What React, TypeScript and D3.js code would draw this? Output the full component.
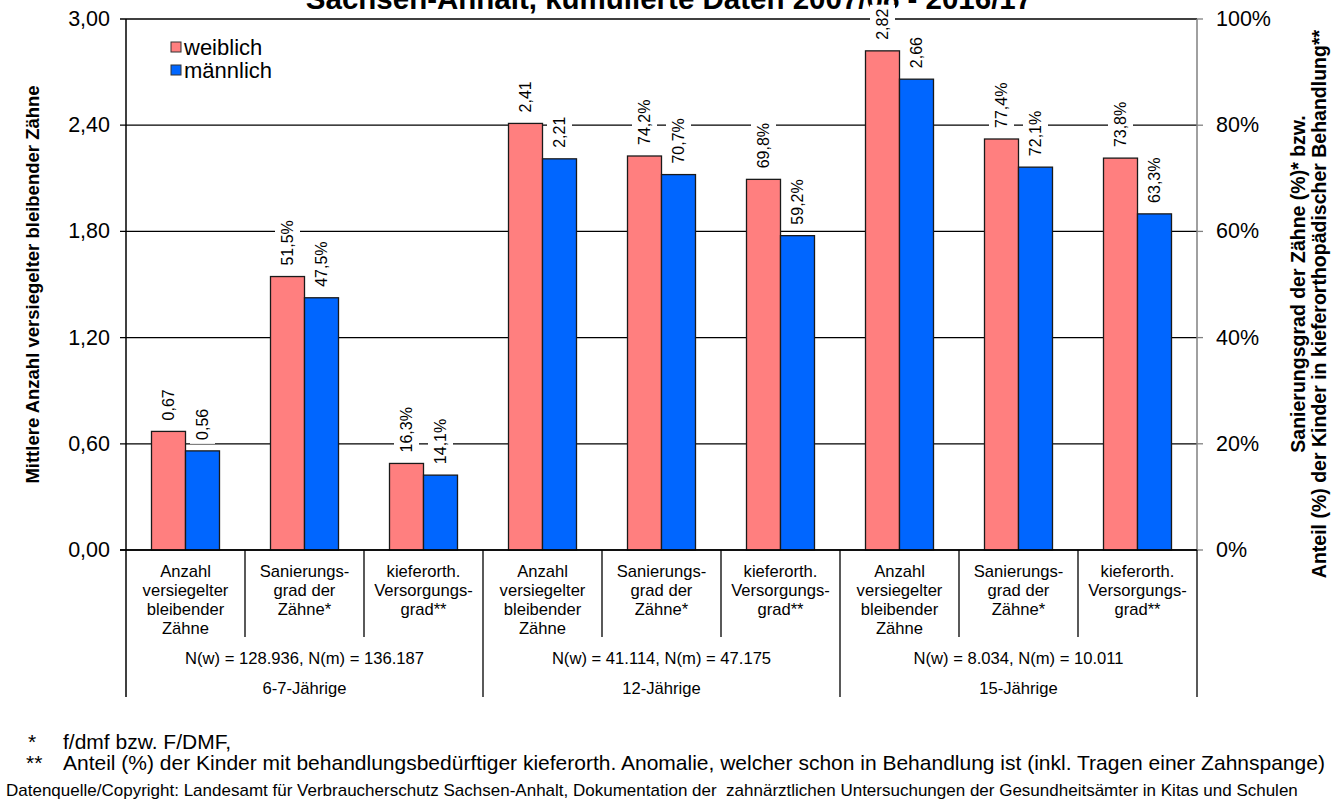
import React, { useEffect, useRef } from "react";
import * as d3 from "d3";

const W = 1331;
const H = 803;

const ageGroups = ["6-7-Jährige", "12-Jährige", "15-Jährige"];
const groupN = [
  "N(w) = 128.936, N(m) = 136.187",
  "N(w) = 41.114, N(m) = 47.175",
  "N(w) = 8.034, N(m) = 10.011",
];
const measureLabels = [
  ["Anzahl", "versiegelter", "bleibender", "Zähne"],
  ["Sanierungs-", "grad der", "Zähne*"],
  ["kieferorth.", "Versorgungs-", "grad**"],
];
// measure type: "count" uses left axis, "pct" uses right axis
const measureAxis = ["count", "pct", "pct"];
const series = ["weiblich", "männlich"];
const colors = ["#FF7F7F", "#0066FF"];

// values per age group: [count, sanierung %, kieferorth %]
const weiblich = [
  [0.67, 51.5, 16.3],
  [2.41, 74.2, 69.8],
  [2.82, 77.4, 73.8],
];
const maennlich = [
  [0.56, 47.5, 14.1],
  [2.21, 70.7, 59.2],
  [2.66, 72.1, 63.3],
];

const leftTicks = [0, 0.6, 1.2, 1.8, 2.4, 3.0];
const rightTicks = [0, 20, 40, 60, 80, 100];

const FONT = "'Liberation Sans', Arial, Helvetica, sans-serif";

export default function App() {
  const ref = useRef<SVGSVGElement | null>(null);

  useEffect(() => {
    const svg = d3.select(ref.current);
    svg.selectAll("*").remove();

    const left = 126, right = 1197, top = 19, bottom = 550;

    const cats: string[] = [];
    ageGroups.forEach((g, gi) => measureLabels.forEach((_, mi) => cats.push(`${gi}-${mi}`)));

    const x = d3.scaleBand<string>().domain(cats).range([left, right]).paddingInner(0).paddingOuter(0);
    const xs = d3.scaleBand<string>().domain(series).range([0, x.bandwidth()]).paddingInner(0).paddingOuter(0.75);
    const yL = d3.scaleLinear().domain([0, 3]).range([bottom, top]);
    const yR = d3.scaleLinear().domain([0, 100]).range([bottom, top]);

    const fmtNum = (v: number) => v.toFixed(2).replace(".", ",");
    const fmtPct = (v: number) => v.toFixed(1).replace(".", ",") + "%";

    const g = svg.append("g").attr("font-family", FONT);

    // title
    g.append("text")
      .attr("x", 669)
      .attr("y", 9)
      .attr("text-anchor", "middle")
      .attr("font-size", 29.5)
      .attr("font-weight", "bold")
      .text("Sachsen-Anhalt, kumulierte Daten 2007/08 - 2016/17");

    // gridlines (left axis ticks)
    leftTicks.forEach((t) => {
      g.append("line")
        .attr("x1", left - 6).attr("x2", right)
        .attr("y1", yL(t)).attr("y2", yL(t))
        .attr("stroke", "#000").attr("stroke-width", 1.3);
    });
    // right ticks
    rightTicks.forEach((t) => {
      g.append("line")
        .attr("x1", right).attr("x2", right + 6)
        .attr("y1", yR(t)).attr("y2", yR(t))
        .attr("stroke", "#808080").attr("stroke-width", 1.3);
    });
    // right axis line
    g.append("line").attr("x1", right).attr("x2", right).attr("y1", top).attr("y2", bottom)
      .attr("stroke", "#808080").attr("stroke-width", 1.5);

    // left tick labels
    leftTicks.forEach((t) => {
      g.append("text")
        .attr("x", 110).attr("y", yL(t))
        .attr("text-anchor", "end").attr("dominant-baseline", "central")
        .attr("font-size", 21.5)
        .text(t.toFixed(2).replace(".", ","));
    });
    rightTicks.forEach((t) => {
      g.append("text")
        .attr("x", 1216).attr("y", yR(t))
        .attr("text-anchor", "start").attr("dominant-baseline", "central")
        .attr("font-size", 21.5)
        .text(`${t}%`);
    });

    // axis titles
    g.append("text")
      .attr("transform", `translate(32, ${(top + bottom) / 2}) rotate(-90)`)
      .attr("text-anchor", "middle").attr("dominant-baseline", "central")
      .attr("font-size", 18.5).attr("font-weight", "bold")
      .text("Mittlere Anzahl versiegelter bleibender Zähne");
    g.append("text")
      .attr("transform", `translate(1298, 284) rotate(-90)`)
      .attr("text-anchor", "middle").attr("dominant-baseline", "central")
      .attr("font-size", 19.5).attr("font-weight", "bold")
      .text("Sanierungsgrad der Zähne (%)* bzw.");
    g.append("text")
      .attr("transform", `translate(1319, 304) rotate(-90)`)
      .attr("text-anchor", "middle").attr("dominant-baseline", "central")
      .attr("font-size", 19.5).attr("font-weight", "bold")
      .text("Anteil (%) der Kinder in kieferorthopädischer Behandlung**");

    // bars
    const barData: { key: string; s: number; v: number; axis: string }[] = [];
    ageGroups.forEach((_, gi) => {
      measureLabels.forEach((_, mi) => {
        barData.push({ key: `${gi}-${mi}`, s: 0, v: weiblich[gi][mi], axis: measureAxis[mi] });
        barData.push({ key: `${gi}-${mi}`, s: 1, v: maennlich[gi][mi], axis: measureAxis[mi] });
      });
    });

    const yOf = (d: { v: number; axis: string }) => (d.axis === "count" ? yL(d.v) : yR(d.v));

    g.append("g").selectAll("rect").data(barData).enter().append("rect")
      .attr("x", (d) => (x(d.key) as number) + (xs(series[d.s]) as number))
      .attr("width", xs.bandwidth())
      .attr("y", (d) => yOf(d))
      .attr("height", (d) => bottom - yOf(d))
      .attr("fill", (d) => colors[d.s])
      .attr("stroke", "#1a1a1a").attr("stroke-width", 1.3);

    // x axis line
    g.append("line").attr("x1", left - 6).attr("x2", right).attr("y1", bottom).attr("y2", bottom)
      .attr("stroke", "#000").attr("stroke-width", 1.5);
    // left axis line
    g.append("line").attr("x1", left).attr("x2", left).attr("y1", top).attr("y2", 697)
      .attr("stroke", "#000").attr("stroke-width", 1.5);

    // category separators
    cats.forEach((c, i) => {
      if (i === 0) return;
      const xx = x(c) as number;
      const isGroup = i % 3 === 0;
      g.append("line").attr("x1", xx).attr("x2", xx).attr("y1", bottom).attr("y2", isGroup ? 697 : 637)
        .attr("stroke", "#000").attr("stroke-width", 1.3);
    });
    g.append("line").attr("x1", right).attr("x2", right).attr("y1", bottom).attr("y2", 697)
      .attr("stroke", "#000").attr("stroke-width", 1.3);

    // category labels
    cats.forEach((c, i) => {
      const mi = i % 3;
      const cx = (x(c) as number) + x.bandwidth() / 2;
      measureLabels[mi].forEach((line, li) => {
        g.append("text")
          .attr("x", cx).attr("y", 571 + li * 19)
          .attr("text-anchor", "middle").attr("dominant-baseline", "central")
          .attr("font-size", 16.6)
          .text(line);
      });
    });
    ageGroups.forEach((a, gi) => {
      const x0 = x(`${gi}-0`) as number;
      const x1 = (x(`${gi}-2`) as number) + x.bandwidth();
      const cx = (x0 + x1) / 2;
      g.append("text").attr("x", cx).attr("y", 658)
        .attr("text-anchor", "middle").attr("dominant-baseline", "central")
        .attr("font-size", 16.6).text(groupN[gi]);
      g.append("text").attr("x", cx).attr("y", 688)
        .attr("text-anchor", "middle").attr("dominant-baseline", "central")
        .attr("font-size", 16.6).text(a);
    });

    // data labels with white box
    const lg = g.append("g");
    barData.forEach((d) => {
      const cx = (x(d.key) as number) + (xs(series[d.s]) as number) + xs.bandwidth() / 2;
      const y0 = yOf(d) - 11;
      const txt = d.axis === "count" ? fmtNum(d.v) : fmtPct(d.v);
      const grp = lg.append("g").attr("transform", `translate(${cx}, ${y0}) rotate(-90)`);
      const rect = grp.append("rect").attr("fill", "#fff");
      const t = grp.append("text")
        .attr("x", 0).attr("y", 0)
        .attr("text-anchor", "start").attr("dominant-baseline", "central")
        .attr("font-size", 16).text(txt);
      const len = (t.node() as SVGTextElement).getComputedTextLength();
      rect.attr("x", -4).attr("y", -12.5).attr("width", len + 8).attr("height", 25);
    });

    // legend
    series.forEach((s, i) => {
      const yy = 47 + i * 23;
      g.append("rect").attr("x", 171).attr("y", yy - 5).attr("width", 10).attr("height", 10)
        .attr("fill", colors[i]).attr("stroke", "#333").attr("stroke-width", 1);
      g.append("text").attr("x", 184).attr("y", yy)
        .attr("dominant-baseline", "central").attr("font-size", 22).text(s);
    });

    // footnotes
    g.append("text").attr("x", 28).attr("y", 749).attr("font-size", 21).text("*");
    g.append("text").attr("x", 63).attr("y", 749).attr("font-size", 21).text("f/dmf bzw. F/DMF,");
    g.append("text").attr("x", 26).attr("y", 770).attr("font-size", 21).text("**");
    g.append("text").attr("x", 63).attr("y", 770).attr("font-size", 21)
      .text("Anteil (%) der Kinder mit behandlungsbedürftiger kieferorth. Anomalie, welcher schon in Behandlung ist (inkl. Tragen einer Zahnspange)");
    g.append("text").attr("x", 6).attr("y", 796).attr("font-size", 17)
      .attr("xml:space", "preserve")
      .text("Datenquelle/Copyright: Landesamt für Verbraucherschutz Sachsen-Anhalt, Dokumentation der  zahnärztlichen Untersuchungen der Gesundheitsämter in Kitas und Schulen");
  }, []);

  return (
    <svg
      ref={ref}
      width={W}
      height={H}
      style={{ position: "absolute", left: 0, top: 0, background: "#fff" }}
    />
  );
}
